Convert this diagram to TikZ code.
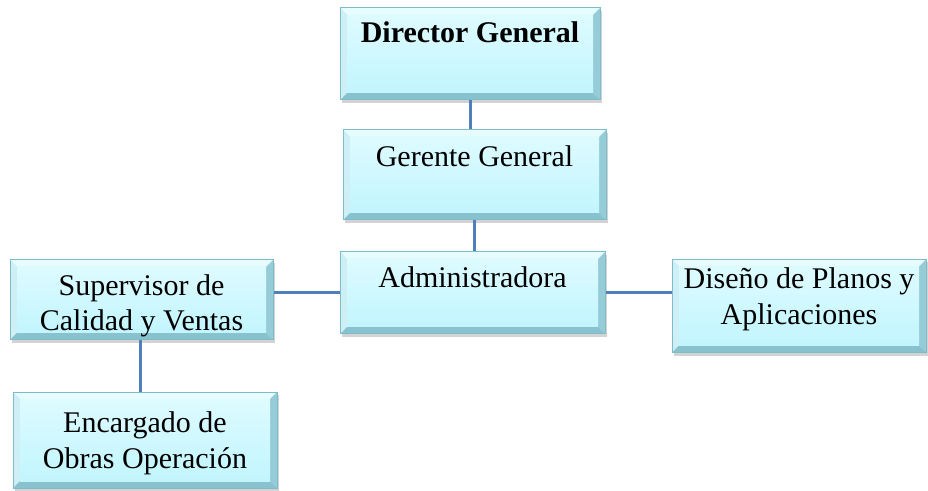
\documentclass[tikz,border=0pt]{standalone}
\usepackage{fontspec}
\setmainfont{Liberation Serif}
\usetikzlibrary{shadows}
\definecolor{boxfill}{HTML}{C2F5FE}
\definecolor{boxtop}{HTML}{DDFBFF}
\definecolor{boxedge}{HTML}{7FBCCB}
\definecolor{bevlight}{HTML}{E6FCFF}
\definecolor{bevleft}{HTML}{CDEFF5}
\definecolor{bevdark}{HTML}{95CCD8}
\definecolor{bevbot}{HTML}{88C2CF}
\definecolor{linkblue}{HTML}{5080BC}
\tikzset{
  orgbox/.style={rectangle, draw=boxedge, line width=1pt, fill=boxfill,
    align=center, font=\fontsize{30}{36}\selectfont, inner sep=0pt,
    drop shadow={shadow xshift=2pt,shadow yshift=-3pt,opacity=0.35},
    path picture={
      \coordinate (bbsw) at (path picture bounding box.south west);
      \coordinate (bbne) at (path picture bounding box.north east);
      \coordinate (bbnw) at (bbsw|-bbne);
      \coordinate (bbse) at (bbne|-bbsw);
      \coordinate (ia) at ([shift={(7pt,-7pt)}]bbnw);
      \coordinate (ib) at ([shift={(-7pt,-7pt)}]bbne);
      \coordinate (ic) at ([shift={(-7pt,7pt)}]bbse);
      \coordinate (id) at ([shift={(7pt,7pt)}]bbsw);
      \fill[bevlight] (bbnw) -- (bbne) -- (ib) -- (ia) -- cycle;
      \fill[bevleft] (bbnw) -- (ia) -- (id) -- (bbsw) -- cycle;
      \fill[bevdark] (bbne) -- (bbse) -- (ic) -- (ib) -- cycle;
      \fill[bevbot] (bbsw) -- (id) -- (ic) -- (bbse) -- cycle;
      \shade[top color=boxtop, bottom color=boxfill] (id) rectangle (ib);
    }},
  link/.style={draw=linkblue, line width=3pt}
}
\begin{document}
\begin{tikzpicture}[x=1pt,y=1pt]
\useasboundingbox (0,0) rectangle (928,490);
\node[orgbox, minimum width=260pt, minimum height=92pt, text height=20pt, text depth=42pt] (dg) at (470,436) {\textbf{Director General}};
\node[orgbox, minimum width=263pt, minimum height=90pt, text height=20pt, text depth=36pt] (gg) at (474.5,315) {Gerente General};
\node[orgbox, minimum width=265pt, minimum height=82pt, text height=20pt, text depth=30pt] (ad) at (472.5,197) {Administradora};
\node[orgbox, minimum width=263pt, minimum height=80pt, text height=62pt, text depth=0pt] (sv) at (141.5,190) {Supervisor de\\Calidad y Ventas};
\node[orgbox, minimum width=254pt, minimum height=93pt, text height=56pt, text depth=19pt] (dp) at (799,184) {Diseño de Planos y\\Aplicaciones};
\node[orgbox, minimum width=264pt, minimum height=96pt, text height=56pt, text depth=0pt] (en) at (145,50) {Encargado de\\Obras Operación};
\draw[link] (dg.south) -- (dg.south |- gg.north);
\draw[link] (gg.south) -- (gg.south |- ad.north);
\draw[link] (ad.west) -- (ad.west -| sv.east);
\draw[link] (ad.east) -- (ad.east -| dp.west);
\draw[link] ([xshift=-1.5pt]sv.south) -- ([xshift=-1.5pt]sv.south |- en.north);
\end{tikzpicture}
\end{document}
